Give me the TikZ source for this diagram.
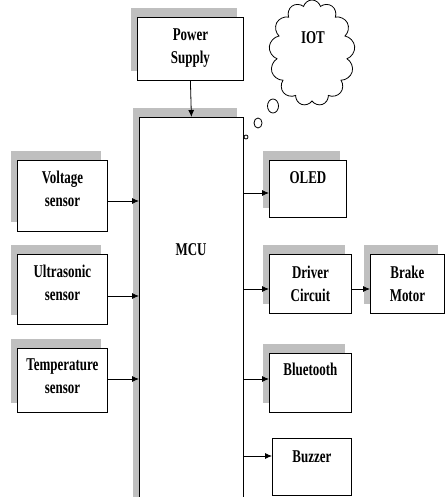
\documentclass[tikz,border=0pt]{standalone}
\usepackage{fontspec}
\setmainfont{Liberation Serif}[FakeStretch=0.72]
\usetikzlibrary{shapes.symbols, shadows, arrows.meta}

\tikzset{
  blk/.style={draw, line width=0.8pt, fill=white, inner sep=0pt, anchor=north west},
  shd/.style={drop shadow={shadow xshift=-6pt, shadow yshift=9pt, fill=gray!50, opacity=1}},
  lbl/.style={inner sep=0pt, anchor=north, align=center, font=\bfseries\fontsize{18}{23}\selectfont}
}

\begin{document}
\begin{tikzpicture}[x=1pt, y=-1pt, >={Latex[length=7pt, width=6pt]}, line width=0.8pt]
		\useasboundingbox (0,0) rectangle (445,497);
		\clip (0,0) rectangle (445,497);

		% Power supply and MCU
		\node[blk, shd, minimum width=106pt, minimum height=63pt] (power) at (137,17) {};
		\node[lbl] (powerT) at ([yshift=-11pt]power.north) {Power\\Supply};
		\node[blk, shd, minimum width=104pt, minimum height=400pt] (mcu) at (139,117) {};
		\node[lbl, anchor=center] (mcuT) at (191,250) {MCU};
		\draw[->] (power.south) -- (mcu.north);

		% IOT cloud
		\node[cloud, draw, cloud puffs=13, cloud ignores aspect, minimum width=86pt, minimum height=106pt] (iot) at (312,53) {};
		\node[lbl] (iotT) at (313,31) {IOT};
		\draw (273,106) ellipse (5.5pt and 7pt);
		\draw (258,123) ellipse (4pt and 5pt);
		\draw (246,137) circle (2pt);

		% Sensors
		\node[blk, shd, minimum width=90pt, minimum height=71pt] (volt) at (17,160) {};
		\node[lbl] (voltT) at ([yshift=-11pt]volt.north) {Voltage\\sensor};
		\node[blk, shd, minimum width=90pt, minimum height=70pt] (ultra) at (17,254) {};
		\node[lbl] (ultraT) at ([yshift=-11pt]ultra.north) {Ultrasonic\\sensor};
		\node[blk, shd, minimum width=90pt, minimum height=64pt] (temp) at (17,348) {};
		\node[lbl] (tempT) at ([yshift=-10pt]temp.north) {Temperature\\sensor};

		\draw[->] (volt.east |- 0,201) -- (mcu.west |- 0,201);
		\draw[->] (ultra.east |- 0,296) -- (mcu.west |- 0,296);
		\draw[->] (temp.east |- 0,379) -- (mcu.west |- 0,379);

		% Outputs
		\node[blk, shd, minimum width=77pt, minimum height=57pt] (oled) at (269,160) {};
		\node[lbl] (oledT) at ([yshift=-11pt]oled.north) {OLED};
		\node[blk, shd, minimum width=82pt, minimum height=59pt] (drv) at (269,254) {};
		\node[lbl] (drvT) at ([yshift=-12pt]drv.north) {Driver\\Circuit};
		\node[blk, shd, minimum width=74pt, minimum height=59pt] (brake) at (370,254) {};
		\node[lbl] (brakeT) at ([yshift=-12pt]brake.north) {Brake\\Motor};
		\node[blk, shd, minimum width=82pt, minimum height=59pt] (blue) at (269,353) {};
		\node[lbl] (blueT) at ([yshift=-10pt]blue.north) {Bluetooth};
		\node[blk, minimum width=79pt, minimum height=57pt] (buzz) at (272,438) {};
		\node[lbl] (buzzT) at ([yshift=-12pt]buzz.north) {Buzzer};

		\draw[->] (mcu.east |- 0,193) -- (oled.west |- 0,193);
		\draw[->] (mcu.east |- 0,289) -- (drv.west |- 0,289);
		\draw[->] (drv.east |- 0,289) -- (brake.west |- 0,289);
		\draw[->] (mcu.east |- 0,379) -- (blue.west |- 0,379);
		\draw[->] (mcu.east |- 0,456) -- (buzz.west |- 0,456);
	\end{tikzpicture}
\end{document}
